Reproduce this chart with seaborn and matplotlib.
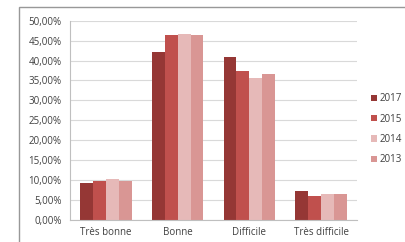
import pandas as pd
import matplotlib
matplotlib.use("Agg")
import matplotlib.pyplot as plt
import seaborn as sns
from matplotlib.patches import Rectangle
from matplotlib.ticker import FuncFormatter

# Data (percent)
categories = ["Très bonne", "Bonne", "Difficile", "Très difficile"]
years = ["2017", "2015", "2014", "2013"]
values_2017 = [9.2, 42.2, 41.0, 7.3]
values_2015 = [9.8, 46.3, 37.4, 6.0]
values_2014 = [10.4, 46.7, 35.6, 6.6]
values_2013 = [9.9, 46.5, 36.6, 6.6]
y_ticks = [0, 5, 10, 15, 20, 25, 30, 35, 40, 45, 50]

colors = ["#953735", "#C0504D", "#E6B9B8", "#D99694"]

rows = []
for year, vals in zip(years, [values_2017, values_2015, values_2014, values_2013]):
    for cat, v in zip(categories, vals):
        rows.append({"categorie": cat, "annee": year, "valeur": v})
df = pd.DataFrame(rows)

sns.set_style("white")
plt.rcParams["font.family"] = ["Open Sans", "DejaVu Sans"]

fig = plt.figure(figsize=(4.06, 2.42), dpi=100)
ax = fig.add_axes([70 / 406, 22 / 242, 287 / 406, 199.3 / 242])

sns.barplot(data=df, x="categorie", y="valeur", hue="annee", hue_order=years,
            palette=colors, width=0.72, saturation=1, ax=ax, legend=True,
            edgecolor="none")

ax.set_ylim(0, 50)
ax.set_yticks(y_ticks)
ax.yaxis.set_major_formatter(FuncFormatter(lambda v, p: f"{v:.2f}%".replace(".", ",")))
ax.set_xlim(-0.5, 3.5)
ax.grid(axis="y", color="#D9D9D9", linewidth=0.8)
ax.set_axisbelow(True)
ax.set_xlabel("")
ax.set_ylabel("")
for side in ["top", "right"]:
    ax.spines[side].set_visible(False)
ax.spines["left"].set_color("#BFBFBF")
ax.spines["bottom"].set_color("#BFBFBF")
ax.spines["left"].set_linewidth(0.8)
ax.spines["bottom"].set_linewidth(0.8)
ax.tick_params(axis="both", length=0, labelsize=7, colors="#404040")
ax.tick_params(axis="y", pad=6)
ax.tick_params(axis="x", pad=5)

leg = ax.legend(loc="center left", bbox_to_anchor=(1.035, 0.455), frameon=False,
                fontsize=7, handlelength=0.6, handleheight=0.6,
                handletextpad=0.3, labelspacing=0.95, borderaxespad=0)
for t in leg.get_texts():
    t.set_color("#404040")

# outer chart frame
fig.patches.append(Rectangle((19 / 406, -0.1), 1.0, (242 - 7) / 242 + 0.1,
                             transform=fig.transFigure, fill=False,
                             edgecolor="#989898", linewidth=1.0))

fig.savefig("out.png", dpi=100)
